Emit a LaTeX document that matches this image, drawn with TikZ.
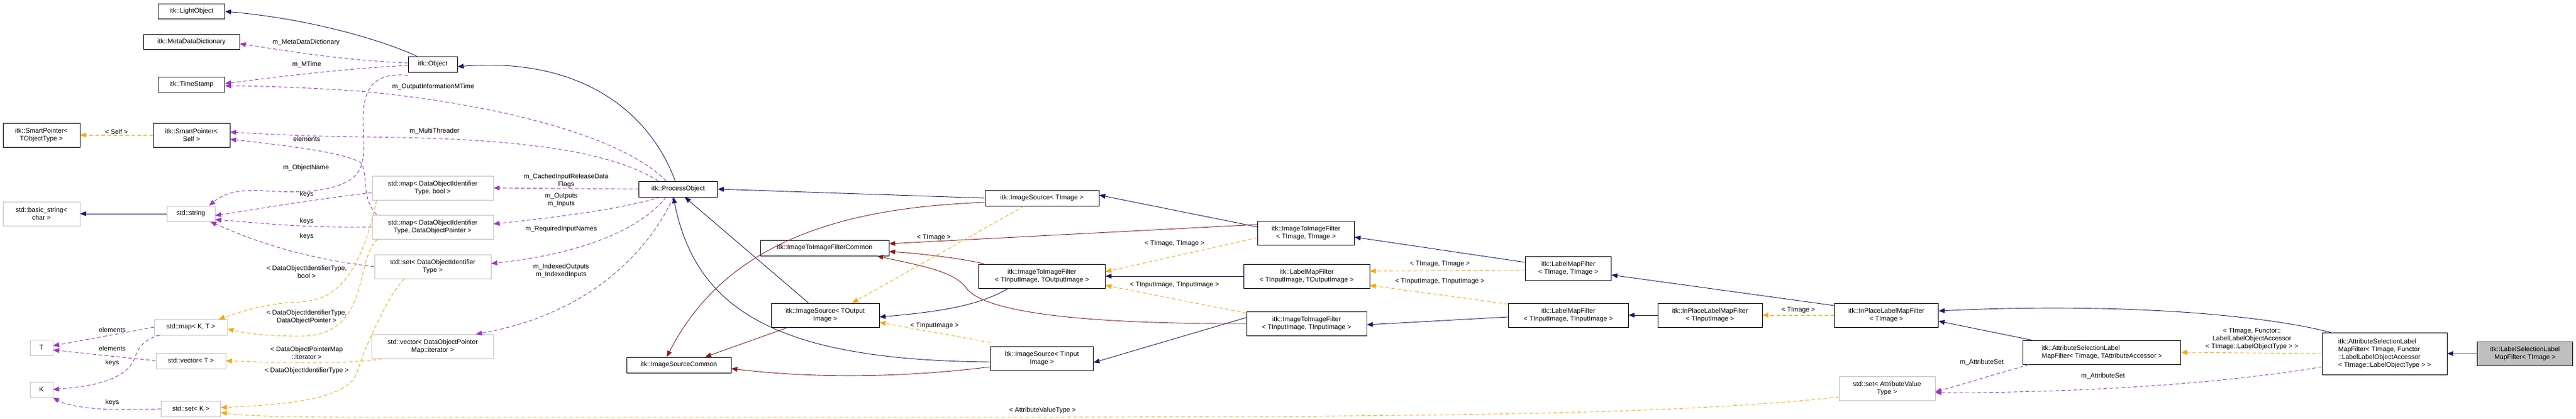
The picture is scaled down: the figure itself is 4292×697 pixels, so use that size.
\documentclass[tikz,border=0pt]{standalone}
\usepackage{fontspec}
\setmainfont{Liberation Sans}
\usetikzlibrary{arrows.meta}
\definecolor{inhc}{HTML}{191970}
\definecolor{redc}{HTML}{8B1A1A}
\definecolor{orc}{HTML}{FFA500}
\definecolor{puc}{HTML}{9A32CD}
\definecolor{grc}{HTML}{BFBFBF}
\tikzset{
 box/.style={draw=black,line width=0.9pt,fill=white,align=center,inner sep=2pt,font=\fontsize{11}{13}\selectfont},
 gbox/.style={box,draw=grc},
 inh/.style={draw=inhc,line width=0.9pt,-{Triangle[length=10pt,width=8pt]}},
 rinh/.style={draw=redc,line width=0.9pt,-{Triangle[length=10pt,width=8pt]}},
 tmpl/.style={draw=orc,line width=0.9pt,dashed,dash pattern=on 6pt off 4pt,-{Triangle[length=10pt,width=8pt]}},
 use/.style={draw=puc,line width=0.9pt,dashed,dash pattern=on 6pt off 4pt,-{Triangle[length=10pt,width=8pt]}},
 lbl/.style={align=center,inner sep=0pt,font=\fontsize{11}{13}\selectfont}
}
\begin{document}
\begin{tikzpicture}[x=1pt,y=-1pt]
\useasboundingbox (0,0) rectangle (4292,697);
% nodes
\node[box,minimum width=111pt,minimum height=25pt] (light) at (319,19) {itk::LightObject};
\node[box,minimum width=160pt,minimum height=25pt] (meta) at (319,70) {itk::MetaDataDictionary};
\node[box,minimum width=111pt,minimum height=25pt] (ts) at (319,141) {itk::TimeStamp};
\node[box,minimum width=128pt,minimum height=40pt] (spt) at (69,225) {itk::SmartPointer\textless\\TObjectType \textgreater};
\node[box,minimum width=128pt,minimum height=40pt] (sps) at (319,225) {itk::SmartPointer\textless\\Self \textgreater};
\node[gbox,minimum width=128pt,minimum height=40pt] (bstr) at (69,356) {std::basic\_string\textless\\char \textgreater};
\node[gbox,minimum width=80pt,minimum height=26pt] (str) at (318,356) {std::string};
\node[gbox,minimum width=38pt,minimum height=26pt] (T) at (69,579) {T};
\node[gbox,minimum width=38pt,minimum height=26pt] (K) at (69,649) {K};
\node[gbox,minimum width=122pt,minimum height=26pt] (mapkt) at (318,545) {std::map\textless{} K, T \textgreater};
\node[gbox,minimum width=116pt,minimum height=26pt] (vect) at (318,601) {std::vector\textless{} T \textgreater};
\node[gbox,minimum width=99pt,minimum height=26pt] (setk) at (318,681) {std::set\textless{} K \textgreater};
\node[box,minimum width=82pt,minimum height=26pt] (obj) at (721,107) {itk::Object};
\node[gbox,minimum width=202pt,minimum height=40pt] (mapb) at (721,313) {std::map\textless{} DataObjectIdentifier\\Type, bool \textgreater};
\node[gbox,minimum width=202pt,minimum height=40pt] (mapd) at (721,378) {std::map\textless{} DataObjectIdentifier\\Type, DataObjectPointer \textgreater};
\node[gbox,minimum width=194pt,minimum height=40pt] (setd) at (721,444) {std::set\textless{} DataObjectIdentifier\\Type \textgreater};
\node[gbox,minimum width=203pt,minimum height=40pt] (vecd) at (721,577) {std::vector\textless{} DataObjectPointer\\Map::iterator \textgreater};
\node[box,minimum width=131pt,minimum height=26pt] (po) at (1130,315) {itk::ProcessObject};
\node[box,minimum width=174pt,minimum height=26pt] (isc) at (1131,608) {itk::ImageSourceCommon};
\node[box,minimum width=214pt,minimum height=26pt] (itc) at (1374,413) {itk::ImageToImageFilterCommon};
\node[box,minimum width=180pt,minimum height=40pt] (isout) at (1375,525) {itk::ImageSource\textless{} TOutput\\Image \textgreater};
\node[box,minimum width=190pt,minimum height=26pt] (isimg) at (1736,330) {itk::ImageSource\textless{} TImage \textgreater};
\node[box,minimum width=211pt,minimum height=40pt] (itio) at (1736,460) {itk::ImageToImageFilter\\\textless{} TInputImage, TOutputImage \textgreater};
\node[box,minimum width=171pt,minimum height=40pt] (isin) at (1736,597) {itk::ImageSource\textless{} TInput\\Image \textgreater};
\node[box,minimum width=161pt,minimum height=40pt] (itii) at (2176,388) {itk::ImageToImageFilter\\\textless{} TImage, TImage \textgreater};
\node[box,minimum width=210pt,minimum height=40pt] (lmio) at (2177,460) {itk::LabelMapFilter\\\textless{} TInputImage, TOutputImage \textgreater};
\node[box,minimum width=200pt,minimum height=40pt] (itinin) at (2177,539) {itk::ImageToImageFilter\\\textless{} TInputImage, TInputImage \textgreater};
\node[box,minimum width=143pt,minimum height=40pt] (lmii) at (2613,447) {itk::LabelMapFilter\\\textless{} TImage, TImage \textgreater};
\node[box,minimum width=200pt,minimum height=40pt] (lminin) at (2613,525) {itk::LabelMapFilter\\\textless{} TInputImage, TInputImage \textgreater};
\node[box,minimum width=174pt,minimum height=40pt] (ipin) at (2849,525) {itk::InPlaceLabelMapFilter\\\textless{} TInputImage \textgreater};
\node[box,minimum width=173pt,minimum height=40pt] (ipi) at (3143,525) {itk::InPlaceLabelMapFilter\\\textless{} TImage \textgreater};
\node[gbox,minimum width=160pt,minimum height=40pt] (setav) at (3144,647) {std::set\textless{} AttributeValue\\Type \textgreater};
\node[box,minimum width=263pt,minimum height=40pt,align=left] (asa) at (3502,587) {itk::AttributeSelectionLabel\\MapFilter\textless{} TImage, TAttributeAccessor \textgreater};
\node[box,minimum width=208pt,minimum height=70pt,align=left] (asf) at (3973,589) {itk::AttributeSelectionLabel\\MapFilter\textless{} TImage, Functor\\::LabelLabelObjectAccessor\\\textless{} TImage::LabelObjectType \textgreater{} \textgreater};
\node[box,fill=grc,minimum width=159pt,minimum height=40pt] (lsl) at (4207,589) {itk::LabelSelectionLabel\\MapFilter\textless{} TImage \textgreater};

% inheritance (navy)
\draw[inh] (obj.north west) ++(15,0) .. controls (620,60) and (500,30) .. (light.east);
\draw[inh] (po.north) ++(-5,0) .. controls (1080,180) and (960,95) .. ([yshift=-4pt]obj.east);
\draw[inh] (isimg.west) -- (po.east);
\draw[inh] ([xshift=-28pt]isout.north) -- ([xshift=-55pt]po.south east);
\draw[inh] ([yshift=-6pt]isin.west) .. controls (1300,600) and (1160,520) .. ([xshift=-8pt]po.south);
\draw[inh] ([yshift=10pt]itii.west) -- ([yshift=5pt]isimg.east);
\draw[inh] ([xshift=-56pt]itio.south) .. controls (1630,510) and (1560,520) .. ([yshift=-3pt]isout.east);
\draw[inh] ([yshift=10pt]itinin.west) -- ([yshift=-7pt]isin.east);
\draw[inh] (lmio.west) -- (itio.east);
\draw[inh] ([yshift=10pt]lmii.west) -- ([yshift=-7pt]itii.east);
\draw[inh] ([yshift=-3pt]lminin.west) -- ([yshift=-2pt]itinin.east);
\draw[inh] (ipin.west) -- (lminin.east);
\draw[inh] ([yshift=16pt]ipi.west) -- ([yshift=-11pt]lmii.east);
\draw[inh] ([xshift=15pt]asa.north west) -- ([yshift=-10pt]ipi.east);
\draw[inh] ([xshift=-90pt]asf.north) .. controls (3750,520) and (3500,505) .. ([yshift=7pt]ipi.east);
\draw[inh] (lsl.west) -- (asf.east);
\draw[inh] (str.west) -- (bstr.east);

% inheritance (dark red)
\draw[rinh] ([yshift=-7pt]isimg.west) .. controls (1450,345) and (1220,380) .. ([xshift=-20pt]isc.north);
\draw[rinh] ([xshift=-62pt]isout.south) -- ([xshift=44pt]isc.north);
\draw[rinh] ([yshift=-14pt]isin.west) .. controls (1500,630) and (1350,630) .. ([yshift=-6pt]isc.east);
\draw[rinh] ([yshift=14pt]itii.west) -- ([yshift=7pt]itc.east);
\draw[rinh] ([xshift=10pt]itio.north west) .. controls (1600,430) and (1530,422) .. ([yshift=-6pt]itc.east);
\draw[rinh] (itinin.west) .. controls (1800,540) and (1640,520) .. (1610,480) .. controls (1590,450) and (1520,440) .. ([xshift=-20pt]itc.south east);

% template instances (orange)
\draw[tmpl] (sps.west) -- node[lbl,above=1pt]{\textless{} Self \textgreater} (spt.east);
\draw[tmpl] ([xshift=8pt]mapb.south west) .. controls (600,460) and (560,500) .. (500,503) .. controls (440,505) and (400,520) .. ([xshift=-15pt]mapkt.north east);
\node[lbl] at (511,453) {\textless{} DataObjectIdentifierType,\\bool \textgreater};
\draw[tmpl] ([xshift=10pt]mapd.south west) .. controls (590,430) and (620,560) .. (500,560) .. controls (450,560) and (410,556) .. ([yshift=-3pt]mapkt.east);
\node[lbl] at (511,528) {\textless{} DataObjectIdentifierType,\\DataObjectPointer \textgreater};
\draw[tmpl] ([xshift=50pt]setd.south west) .. controls (640,500) and (600,600) .. (595,620) .. controls (580,670) and (450,675) .. ([yshift=2pt]setk.east);
\node[lbl] at (511,618) {\textless{} DataObjectIdentifierType \textgreater};
\draw[tmpl] ([xshift=18pt]vecd.south west) .. controls (600,605) and (500,606) .. (vect.east);
\node[lbl] at (511,588) {\textless{} DataObjectPointerMap\\::iterator \textgreater};
\draw[tmpl] ([yshift=6pt]setav.south west) .. controls (2800,690) and (2400,694) .. (1737,695) -- (600,695) .. controls (450,695) and (400,692) .. ([yshift=-6pt]setk.east);
\node[lbl] at (1737,684) {\textless{} AttributeValueType \textgreater};
\draw[tmpl] ([xshift=-30pt]isimg.south) -- ([xshift=45pt]isout.north);
\node[lbl] at (1556,396) {\textless{} TImage \textgreater};
\draw[tmpl] ([yshift=6pt]isin.north west) -- ([yshift=-12pt]isout.east);
\node[lbl] at (1557,543) {\textless{} TInputImage \textgreater};
\draw[tmpl] ([yshift=-8pt]itii.west) -- ([yshift=-13pt]itio.north east);
\node[lbl] at (1957,406) {\textless{} TImage, TImage \textgreater};
\draw[tmpl] ([yshift=-3pt]itinin.north west) -- ([yshift=5pt]itio.south east);
\node[lbl] at (1957,475) {\textless{} TInputImage, TInputImage \textgreater};
\draw[tmpl] ([yshift=-3pt]lmii.west) -- ([yshift=-12pt]lmio.north east);
\node[lbl] at (2399,440) {\textless{} TImage, TImage \textgreater};
\draw[tmpl] ([yshift=-2pt]lminin.north west) -- ([yshift=5pt]lmio.south east);
\node[lbl] at (2399,469) {\textless{} TInputImage, TInputImage \textgreater};
\draw[tmpl] (ipi.west) -- node[lbl,above=3pt]{\textless{} TImage \textgreater} (ipin.east);
\draw[tmpl] (asf.west) -- (asa.east);
\node[lbl] at (3752,565) {\textless{} TImage, Functor::\\LabelLabelObjectAccessor\\\textless{} TImage::LabelObjectType \textgreater{} \textgreater};

% usage (purple)
\draw[use] ([yshift=2pt]obj.west) .. controls (560,100) and (450,80) .. ([yshift=-3pt]meta.east);
\node[lbl] at (510,71) {m\_MetaDataDictionary};
\draw[use] ([yshift=-2pt]obj.west) .. controls (560,115) and (450,130) .. ([yshift=2pt]ts.east);
\node[lbl] at (511,108) {m\_MTime};
\draw[use] ([xshift=-20pt]po.north) .. controls (1030,220) and (800,170) .. (600,152) .. controls (500,145) and (420,143) .. ([yshift=-2pt]ts.east);
\node[lbl] at (722,145) {m\_OutputInformationMTime};
\draw[use] ([xshift=-33pt]po.north) .. controls (1000,240) and (800,230) .. (600,228) .. controls (500,227) and (420,222) .. ([yshift=5pt]sps.east);
\node[lbl] at (724,219) {m\_MultiThreader};
\draw[use] ([yshift=-5pt]obj.south west) .. controls (620,120) and (605,150) .. (605,200) .. controls (605,260) and (620,300) .. (540,315) .. controls (460,330) and (400,300) .. ([xshift=-10pt]str.north east);
\node[lbl] at (510,280) {m\_ObjectName};
\draw[use] (po.west) -- node[lbl,above=1pt]{m\_CachedInputReleaseData\\Flags} (mapb.east);
\draw[use] ([xshift=-30pt]po.south) .. controls (1030,350) and (900,365) .. ([yshift=5pt]mapd.east);
\node[lbl] at (935,333) {m\_Outputs\\m\_Inputs};
\draw[use] ([xshift=-20pt]po.south) .. controls (1060,390) and (950,425) .. ([yshift=5pt]setd.east);
\node[lbl] at (935,382) {m\_RequiredInputNames};
\draw[use] ([xshift=-8pt]po.south) .. controls (1090,400) and (1000,520) .. ([xshift=-30pt]vecd.north east);
\node[lbl] at (935,451) {m\_IndexedOutputs\\m\_IndexedInputs};
\draw[use] ([yshift=-8pt]mapb.west) .. controls (500,335) and (420,350) .. ([yshift=-3pt]str.east);
\node[lbl] at (511,324) {keys};
\draw[use] (mapd.west) .. controls (500,380) and (420,370) .. ([yshift=-10pt]str.east);
\node[lbl] at (511,369) {keys};
\draw[use] (setd.west) .. controls (500,430) and (420,400) .. ([xshift=-8pt]str.south east);
\node[lbl] at (511,394) {keys};
\draw[use] ([xshift=8pt]mapd.north west) .. controls (600,330) and (615,285) .. (600,270) .. controls (560,250) and (450,240) .. ([yshift=-7pt]sps.east);
\node[lbl] at (511,232) {elements};
\draw[use] (mapkt.west) -- ([yshift=3pt]T.east);
\node[lbl] at (187,550) {elements};
\draw[use] (vect.west) -- ([yshift=-4pt]T.east);
\node[lbl] at (187,581) {elements};
\draw[use] ([xshift=10pt]mapkt.south west) .. controls (240,565) and (230,580) .. (225,595) .. controls (210,640) and (130,645) .. (K.east);
\node[lbl] at (187,605) {keys};
\draw[use] (setk.west) .. controls (180,685) and (120,680) .. (K.south east);
\node[lbl] at (187,671) {keys};
\draw[use] ([xshift=10pt]asa.south west) -- ([yshift=-6pt]setav.east);
\node[lbl] at (3302,604) {m\_AttributeSet};
\draw[use] ([yshift=-22pt]asf.west) .. controls (3700,640) and (3450,655) .. ([yshift=-7pt]setav.east);
\node[lbl] at (3504,627) {m\_AttributeSet};
\end{tikzpicture}
\end{document}
